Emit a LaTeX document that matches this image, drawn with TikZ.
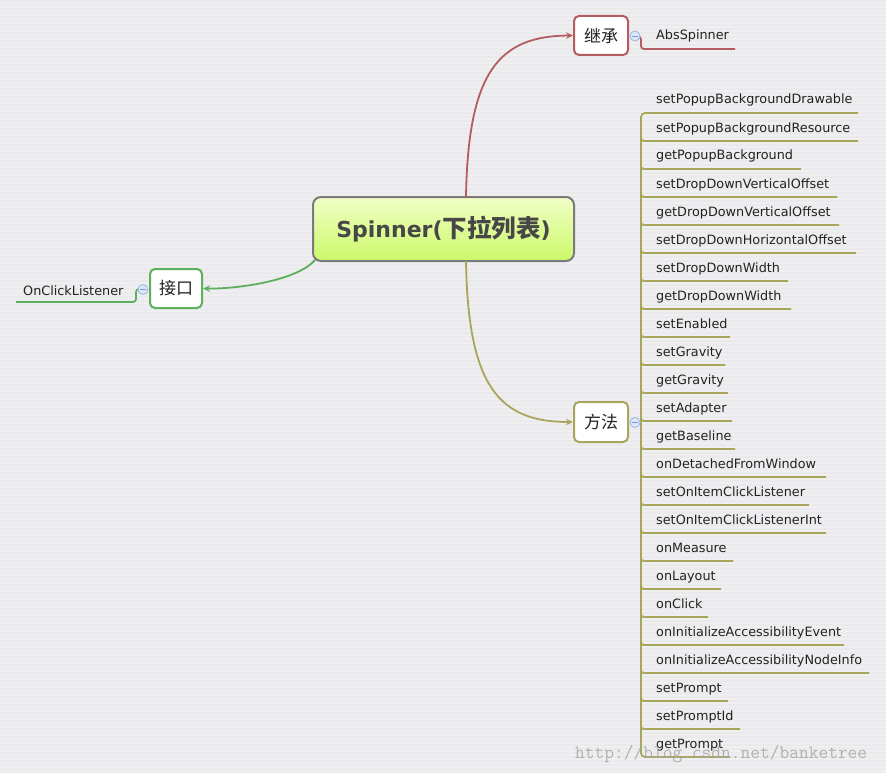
\documentclass[tikz,border=0pt]{standalone}
\usepackage{fontspec}
\setmainfont{DejaVu Sans}
\newfontfamily\cjk{Noto Sans CJK SC}
\usetikzlibrary{arrows.meta}
\definecolor{bg}{HTML}{EFEFF1}
\definecolor{bgs}{HTML}{EAEAED}
\definecolor{redb}{HTML}{B35D5E}
\definecolor{oliveb}{HTML}{A9A65B}
\definecolor{greenb}{HTML}{5DAF5D}
\definecolor{rootline}{HTML}{7A7A7A}
\definecolor{roottop}{HTML}{F2FFC8}
\definecolor{rootbot}{HTML}{CBF868}
\definecolor{txt}{HTML}{222222}
\definecolor{roottxt}{HTML}{474747}
\definecolor{cfill}{HTML}{DCE6F8}
\definecolor{cline}{HTML}{9DB5E5}
\definecolor{cminus}{HTML}{7B9BD8}
\definecolor{wm}{HTML}{A6A6A6}
\tikzset{
  topic/.style={draw, line width=2pt, fill=white, rounded corners=5pt, inner sep=0pt,
    font=\cjk\fontsize{17}{20}\selectfont, text=txt},
  rootbox/.style={draw=rootline, line width=2pt, rounded corners=8pt, inner sep=0pt,
    top color=roottop, bottom color=rootbot, minimum width=261pt, minimum height=64pt, text=roottxt},
  item/.style={anchor=base west, inner sep=0pt, font=\fontsize{12.8}{15}\selectfont, text=txt},
  collapse/.style={circle, draw=cline, fill=cfill, minimum size=10pt, inner sep=0pt, line width=0.8pt,
    path picture={\draw[cminus, line width=0.8pt] ([xshift=-2.8pt]path picture bounding box.center) -- ([xshift=2.8pt]path picture bounding box.center);}},
  arr/.style={-{Stealth[length=7pt,width=6.5pt]}},
  redline/.style={draw=redb, line width=1.8pt},
  oliveline/.style={draw=oliveb, line width=1.8pt},
  greenline/.style={draw=greenb, line width=1.8pt},
}
\begin{document}
\begin{tikzpicture}[x=1pt,y=-1pt]
\useasboundingbox (0,0) rectangle (886,773);
\fill[bg] (0,0) rectangle (886,773);
\foreach \s in {0,4,...,772} \fill[bgs] (0,\s) rectangle (886,\s+2);

% main topic and subtopics
\node[rootbox] (root) at (443.5,229) {{\bfseries\fontsize{22}{26}\selectfont Spinner(}{\cjk\bfseries\fontsize{24.5}{26}\selectfont 下拉列表}{\bfseries\fontsize{22}{26}\selectfont )}};
\node[topic, draw=redb, minimum width=54pt, minimum height=39pt] (inh) at (601,35.5) {继承};
\node[topic, draw=oliveb, minimum width=54pt, minimum height=40pt] (mth) at (601,422) {方法};
\node[topic, draw=greenb, minimum width=52pt, minimum height=39pt] (itf) at (176,288.5) {接口};

\coordinate (rtop) at (466,197);
\coordinate (rbot) at (466,261);
\coordinate (rleft) at (315,260);

\draw[redline, arr] (rtop) .. controls (468,70) and (500,36) .. (inh.west);
\draw[oliveline, arr] (rbot) .. controls (468,388) and (500,422) .. (mth.west);
\draw[greenline, arr] (rleft) .. controls (298,280) and (240,289) .. (itf.east);

% inheritance branch
\node[item] (abs) at (656,40) {AbsSpinner};
\coordinate (absu) at (735,49);
\coordinate (absk) at (641,36.5);
\draw[redline, rounded corners=3pt] (633,36.5) -- (absk) |- (absu);
\node[collapse] (c1) at (635,36) {};

% interface branch
\node[item] (ocl) at (23,295) {OnClickListener};
\coordinate (oclu) at (16,302);
\coordinate (oclk) at (136,289);
\draw[greenline, rounded corners=3pt] (oclu) -| (oclk) -- (145,289);
\node[collapse] (c3) at (143,289.5) {};

% method branch
\foreach \i/\e/\t in {
  0/858/setPopupBackgroundDrawable,
  1/858/setPopupBackgroundResource,
  2/801/getPopupBackground,
  3/837/setDropDownVerticalOffset,
  4/839/getDropDownVerticalOffset,
  5/856/setDropDownHorizontalOffset,
  6/788/setDropDownWidth,
  7/791/getDropDownWidth,
  8/730/setEnabled,
  9/725/setGravity,
  10/728/getGravity,
  11/732/setAdapter,
  12/735/getBaseline,
  13/826/onDetachedFromWindow,
  14/809/setOnItemClickListener,
  15/826/setOnItemClickListenerInt,
  16/733/onMeasure,
  17/721/onLayout,
  18/708/onClick,
  19/844/onInitializeAccessibilityEvent,
  20/869/onInitializeAccessibilityNodeInfo,
  21/728/setPrompt,
  22/740/setPromptId,
  23/730/getPrompt}{
  \pgfmathsetmacro\yu{113+28*\i}
  \node[item] (m\i) at (656,\yu-9) {\t};
  \coordinate (u\i) at (\e,\yu);
  \coordinate (k\i) at (641,\yu-8);
}
\draw[oliveline, rounded corners=4pt] (u0) -- (641,113) -- (641,757) -- (u23);
\foreach \i in {1,...,22} \draw[oliveline, rounded corners=3pt] (k\i) |- (u\i);
\draw[oliveline] (633,422.5) -- (641,422.5);
\node[collapse] (c2) at (635,422.5) {};

% watermark
\node[anchor=base west, inner sep=0pt, font=\ttfamily\fontsize{18.9}{20}\selectfont, text=wm, opacity=0.85] (wmk) at (575,758) {http://blog.csdn.net/banketree};
\end{tikzpicture}
\end{document}
